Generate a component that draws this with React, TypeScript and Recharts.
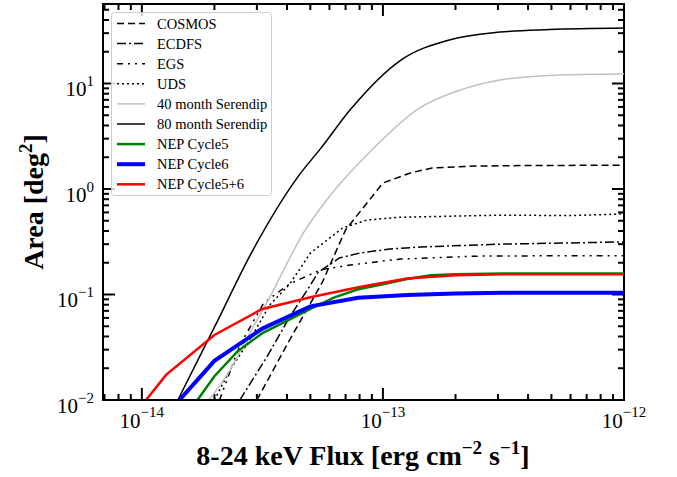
import React from 'react';
import { LineChart, Line, XAxis, YAxis, ReferenceArea, ReferenceLine } from 'recharts';

// survey curves (flux in erg/cm2/s, area in deg2)
const cosmosFlux = [3.0e-14, 4.1e-14, 5.6e-14, 7.0e-14, 1.0e-13, 1.3e-13, 1.6e-13, 2.4e-13, 4.0e-13, 1.0e-12];
const cosmosArea = [0.01, 0.037, 0.13, 0.41, 1.14, 1.42, 1.58, 1.65, 1.67, 1.68];

const ecdfsFlux = [2.55e-14, 3.3e-14, 4.1e-14, 4.85e-14, 5.4e-14, 6.6e-14, 8.0e-14, 1.07e-13, 1.43e-13, 3.06e-13, 1.0e-12];
const ecdfsArea = [0.01, 0.0256, 0.061, 0.11, 0.163, 0.222, 0.247, 0.27, 0.282, 0.3, 0.315];

const egsFlux = [2.1e-14, 2.55e-14, 3.2e-14, 4.1e-14, 5.5e-14, 7.3e-14, 1.18e-13, 2.6e-13, 1.0e-12];
const egsArea = [0.01, 0.033, 0.083, 0.126, 0.171, 0.19, 0.217, 0.232, 0.233];

const udsFlux = [2.0e-14, 2.32e-14, 2.8e-14, 3.4e-14, 4.1e-14, 5.0e-14, 6.8e-14, 8.6e-14, 1.18e-13, 3.06e-13, 6.0e-13, 1.0e-12];
const udsArea = [0.01, 0.0192, 0.037, 0.08, 0.125, 0.247, 0.427, 0.508, 0.54, 0.565, 0.56, 0.58];

const ser40Flux = [1.9e-14, 2.32e-14, 2.8e-14, 3.4e-14, 4.1e-14, 4.5e-14, 6.0e-14, 9.0e-14, 1.42e-13, 2.1e-13, 3.06e-13, 4.5e-13, 6.6e-13, 1.0e-12];
const ser40Area = [0.01, 0.0192, 0.043, 0.095, 0.22, 0.33, 0.85, 2.34, 5.86, 8.7, 10.8, 11.8, 12.2, 12.3];

const ser80Flux = [1.41e-14, 2.0e-14, 2.89e-14, 4.5e-14, 5.5e-14, 7.3e-14, 1.18e-13, 1.9e-13, 3.06e-13, 4.9e-13, 1.0e-12];
const ser80Area = [0.01, 0.049, 0.264, 1.36, 2.4, 5.6, 16.5, 26, 30.7, 32.5, 33.6];

const c5Flux = [1.58e-14, 2.0e-14, 2.5e-14, 3.16e-14, 3.98e-14, 5.0e-14, 6.3e-14, 7.9e-14, 1.0e-13, 1.26e-13, 1.58e-13, 2.0e-13, 3.16e-13, 1.0e-12];
const c5Area = [0.0079, 0.0168, 0.029, 0.043, 0.056, 0.073, 0.094, 0.112, 0.125, 0.14, 0.152, 0.156, 0.158, 0.158];

const c6Flux = [1.26e-14, 2.0e-14, 3.16e-14, 5.0e-14, 7.9e-14, 1.26e-13, 2.0e-13, 3.16e-13, 1.0e-12];
const c6Area = [0.0072, 0.0235, 0.0475, 0.0772, 0.093, 0.099, 0.102, 0.104, 0.104];

const c56Flux = [1.0e-14, 1.26e-14, 2.0e-14, 3.16e-14, 5.0e-14, 7.9e-14, 1.26e-13, 2.0e-13, 3.16e-13, 5.0e-13, 1.0e-12];
const c56Area = [0.0089, 0.0173, 0.0413, 0.073, 0.094, 0.117, 0.142, 0.152, 0.156, 0.156, 0.156];

// axis ticks
const xMajor = [1e-14, 1e-13, 1e-12];
const xMinor = [7e-15, 8e-15, 9e-15, 2e-14, 3e-14, 4e-14, 5e-14, 6e-14, 7e-14, 8e-14, 9e-14, 2e-13, 3e-13, 4e-13, 5e-13, 6e-13, 7e-13, 8e-13, 9e-13];
const yMajor = [1e-2, 1e-1, 1, 10];
const yMinor = [
  0.02, 0.03, 0.04, 0.05, 0.06, 0.07, 0.08, 0.09,
  0.2, 0.3, 0.4, 0.5, 0.6, 0.7, 0.8, 0.9,
  2, 3, 4, 5, 6, 7, 8, 9,
  20, 30, 40, 50,
];

const FONT = '"Liberation Serif", "Times New Roman", Times, serif';

type Series = {
  name: string;
  flux: number[];
  area: number[];
  color: string;
  width: number;
  dash?: string;
  curve: 'linear' | 'monotone';
};

const series: Series[] = [
  { name: 'COSMOS', flux: cosmosFlux, area: cosmosArea, color: '#000', width: 1.5, dash: '7 4', curve: 'linear' },
  { name: 'ECDFS', flux: ecdfsFlux, area: ecdfsArea, color: '#000', width: 1.5, dash: '9 3 2 3', curve: 'linear' },
  { name: 'EGS', flux: egsFlux, area: egsArea, color: '#000', width: 1.5, dash: '6 5 2 5 2 5', curve: 'linear' },
  { name: 'UDS', flux: udsFlux, area: udsArea, color: '#000', width: 1.5, dash: '2 3', curve: 'linear' },
  { name: '40 month Serendip', flux: ser40Flux, area: ser40Area, color: '#c0c0c0', width: 1.5, curve: 'monotone' },
  { name: '80 month Serendip', flux: ser80Flux, area: ser80Area, color: '#000', width: 1.5, curve: 'monotone' },
  { name: 'NEP Cycle5', flux: c5Flux, area: c5Area, color: '#008000', width: 2.5, curve: 'linear' },
  { name: 'NEP Cycle6', flux: c6Flux, area: c6Area, color: '#0000ff', width: 4, curve: 'linear' },
  { name: 'NEP Cycle5+6', flux: c56Flux, area: c56Area, color: '#ff0000', width: 2.5, curve: 'linear' },
];

const toPoints = (flux: number[], area: number[]) => flux.map((x, i) => ({ x, y: area[i] }));

const isMajor = (v: number) => Math.abs(Math.log10(v) - Math.round(Math.log10(v))) < 1e-6;
const expLabel = (v: number) => {
  const e = Math.round(Math.log10(v));
  return (e < 0 ? '\u2212' : '') + Math.abs(e);
};

const W = 677;
const H = 477;
const M = { top: 4, right: 53, bottom: 76, left: 102 };

const MAJOR = 12;
const MINOR = 6;

// tick labels (the axes themselves)
function XLabel(props: any) {
  const { x, y, payload } = props;
  if (!isMajor(payload.value)) return <g />;
  return (
    <text x={x} y={y + 28} textAnchor="middle" fontFamily={FONT} fontSize={21} fill="#000">
      10<tspan dy={-11} fontSize={15}>{expLabel(payload.value)}</tspan>
    </text>
  );
}

function YLabel(props: any) {
  const { x, y, payload } = props;
  if (!isMajor(payload.value)) return <g />;
  return (
    <text x={x - 9} y={y + 12.5} textAnchor="end" fontFamily={FONT} fontSize={21} fill="#000">
      10<tspan dy={-10} fontSize={15}>{expLabel(payload.value)}</tspan>
    </text>
  );
}

// inward tick marks at both ends of a reference line
function XMark(props: any) {
  const { x1, y1, y2, len } = props;
  const yb = Math.max(y1, y2);
  const yt = Math.min(y1, y2);
  return (
    <g>
      <line x1={x1} x2={x1} y1={yb} y2={yb - len} stroke="#000" strokeWidth={2} />
      <line x1={x1} x2={x1} y1={yt} y2={yt + len} stroke="#000" strokeWidth={2} />
    </g>
  );
}

function YMark(props: any) {
  const { x1, x2, y1, len } = props;
  const xl = Math.min(x1, x2);
  const xr = Math.max(x1, x2);
  return (
    <g>
      <line x1={xl} x2={xl + len} y1={y1} y2={y1} stroke="#000" strokeWidth={2} />
      <line x1={xr} x2={xr - len} y1={y1} y2={y1} stroke="#000" strokeWidth={2} />
    </g>
  );
}

// legend drawn beside the chart, from the same series list
function LegendBox() {
  return (
    <svg width={161} height={184} style={{ position: 'absolute', left: 111, top: 12, pointerEvents: 'none' }}>
      <rect x={0.5} y={0.5} width={160} height={183} rx={3} fill="#fff" fillOpacity={0.8} stroke="#cccccc" />
      {series.map((s, i) => {
        const cy = 11.5 + 20.1 * i;
        return (
          <g key={s.name}>
            <line x1={6} x2={34} y1={cy} y2={cy} stroke={s.color} strokeWidth={s.width} strokeDasharray={s.dash} />
            <text x={46} y={cy + 5} fontFamily={FONT} fontSize={14.5} fill="#000">
              {s.name}
            </text>
          </g>
        );
      })}
    </svg>
  );
}

function Titles() {
  return (
    <svg width={W} height={H} style={{ position: 'absolute', left: 0, top: 0, pointerEvents: 'none' }}>
      <text x={363} y={465} textAnchor="middle" fontFamily={FONT} fontWeight="bold" fontSize={28} fill="#000">
        8-24 keV Flux [erg cm<tspan dy={-11} fontSize={19}>{'\u22122'}</tspan>
        <tspan dy={11} fontSize={28}> s</tspan>
        <tspan dy={-11} fontSize={19}>{'\u22121'}</tspan>
        <tspan dy={11} fontSize={28}>]</tspan>
      </text>
      <text
        transform="translate(43,202) rotate(-90)"
        textAnchor="middle"
        fontFamily={FONT}
        fontWeight="bold"
        fontSize={28}
        fill="#000"
      >
        Area [deg<tspan dy={-11} fontSize={19}>2</tspan>
        <tspan dy={11} fontSize={28}>]</tspan>
      </text>
    </svg>
  );
}

const xDomain: [number, number] = [6.9e-15, 1e-12];
const yDomain: [number, number] = [0.01, 56.7];
const xTicks = [...xMinor, ...xMajor].sort((a, b) => a - b);
const yTicks = [...yMinor, ...yMajor].sort((a, b) => a - b);
const frame = { stroke: '#000', strokeWidth: 2 };

export default function App() {
  return (
    <div style={{ position: 'absolute', left: 0, top: 0, width: W, height: H }}>
      <LineChart width={W} height={H} margin={M}>
        <XAxis
          dataKey="x"
          type="number"
          scale="log"
          domain={xDomain}
          allowDataOverflow
          ticks={xMajor}
          interval={0}
          height={1}
          tickSize={0}
          tickMargin={0}
          tickLine={false}
          axisLine={frame}
          tick={(p: any) => <XLabel {...p} />}
        />
        <YAxis
          type="number"
          scale="log"
          domain={yDomain}
          allowDataOverflow
          ticks={yMajor}
          interval={0}
          width={1}
          tickSize={0}
          tickMargin={0}
          tickLine={false}
          axisLine={frame}
          tick={(p: any) => <YLabel {...p} />}
        />
        <ReferenceArea
          x1={xDomain[0]}
          x2={xDomain[1]}
          y1={yDomain[0]}
          y2={yDomain[1]}
          fill="none"
          fillOpacity={0}
          stroke="#000"
          strokeWidth={2}
          ifOverflow="visible"
        />
        {xTicks.map((v) => (
          <ReferenceLine
            key={`xt${v}`}
            x={v}
            ifOverflow="visible"
            shape={(p: any) => <XMark {...p} len={isMajor(v) ? MAJOR : MINOR} />}
          />
        ))}
        {yTicks.map((v) => (
          <ReferenceLine
            key={`yt${v}`}
            y={v}
            ifOverflow="visible"
            shape={(p: any) => <YMark {...p} len={isMajor(v) ? MAJOR : MINOR} />}
          />
        ))}
        {series.map((s) => (
          <Line
            key={s.name}
            name={s.name}
            data={toPoints(s.flux, s.area)}
            dataKey="y"
            type={s.curve}
            stroke={s.color}
            strokeWidth={s.width}
            strokeDasharray={s.dash}
            dot={false}
            activeDot={false}
            isAnimationActive={false}
          />
        ))}
      </LineChart>
      <Titles />
      <LegendBox />
    </div>
  );
}
